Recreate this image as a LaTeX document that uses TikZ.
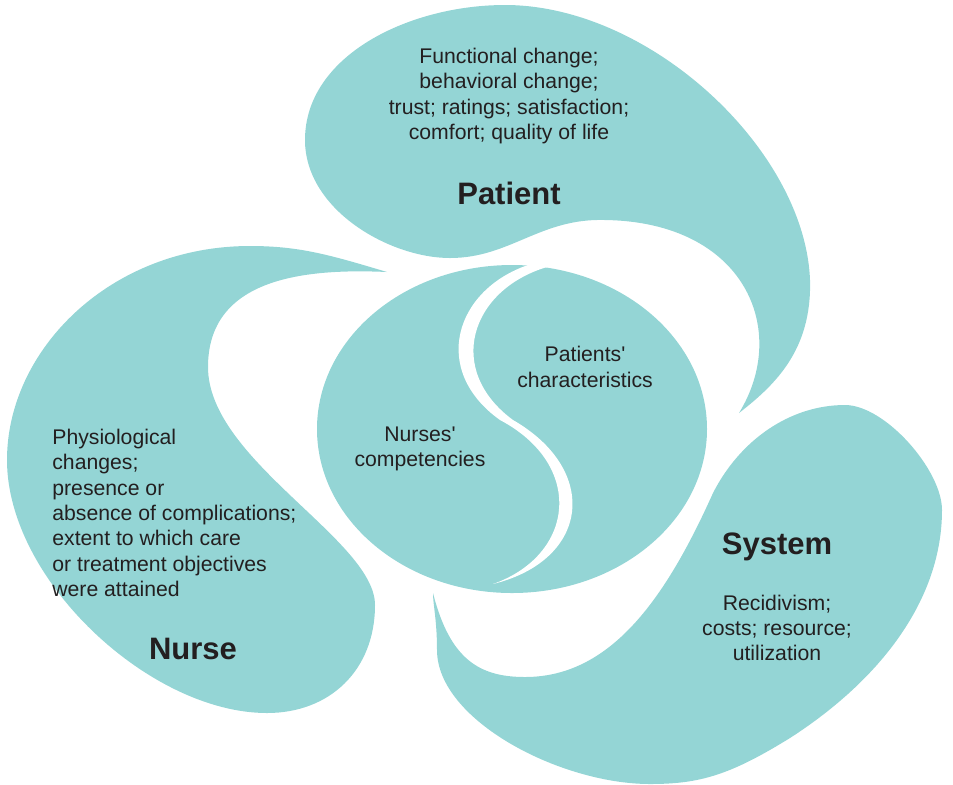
\documentclass[tikz,border=0pt]{standalone}
\usepackage{fontspec}
\setmainfont{Liberation Sans}[Ligatures=TeXOff]
\definecolor{blobc}{RGB}{148,213,213}
\definecolor{txtc}{RGB}{35,31,32}
\begin{document}
\begin{tikzpicture}[x=0.5pt,y=-0.5pt,
  blob/.style={fill=blobc},
  lbl/.style={text=txtc, font=\fontsize{10.6}{12.7}\selectfont, align=center, inner sep=0pt},
  ttl/.style={text=txtc, font=\fontsize{15.5}{18}\selectfont\bfseries, inner sep=0pt}]
\useasboundingbox (0,0) rectangle (953,784);
% Patient blob
\fill[blob] (739,413) .. controls (790,330) and (745,222) .. (605,220)
  .. controls (540,218) and (510,258) .. (450,258)
  .. controls (390,258) and (305,210) .. (305,140)
  .. controls (305,55) and (410,5) .. (505,5)
  .. controls (650,5) and (805,150) .. (810,280)
  .. controls (812,350) and (775,385) .. (739,413) -- cycle;
% Nurse blob
\fill[blob] (387,272) .. controls (330,255) and (300,246) .. (250,246)
  .. controls (110,246) and (7,350) .. (7,460)
  .. controls (7,580) and (150,713) .. (267,713)
  .. controls (330,713) and (375,670) .. (375,605)
  .. controls (375,540) and (208,460) .. (208,367)
  .. controls (208,280) and (300,268) .. (387,272) -- cycle;
% System blob
\fill[blob] (433,593) .. controls (450,660) and (480,677) .. (525,677)
  .. controls (610,677) and (665,600) .. (713,493)
  .. controls (740,440) and (790,405) .. (845,405)
  .. controls (885,405) and (942,470) .. (942,510)
  .. controls (942,600) and (880,680) .. (790,738)
  .. controls (730,775) and (700,784) .. (650,784)
  .. controls (560,784) and (437,720) .. (437,650)
  .. controls (437,620) and (433,605) .. (433,593) -- cycle;
% central circle
\fill[blob] (512,429) ellipse [x radius=195, y radius=164];
\fill[white] (528,255) -- (528,265) .. controls (455,290) and (430,370) .. (500,420)
  .. controls (585,465) and (575,555) .. (493,584)
  .. controls (590,560) and (600,470) .. (513,420)
  .. controls (445,370) and (470,290) .. (547,267) -- (547,255) -- cycle;
% texts
\node[lbl] (ptext) at (509,96) {Functional change;\\behavioral change;\\trust; ratings; satisfaction;\\comfort; quality of life};
\node[ttl] (patient) at (509,193) {Patient};
\node[lbl, align=left, anchor=west] (ntext) at (52,513) {Physiological\\changes;\\presence or\\absence of complications;\\extent to which care\\or treatment objectives\\were attained};
\node[ttl] (nurse) at (193,649) {Nurse};
\node[ttl] (system) at (777,547) {System};
\node[lbl] (stext) at (777,628) {Recidivism;\\costs; resource;\\utilization};
\node[lbl] (ncomp) at (420,449) {Nurses'\\competencies};
\node[lbl] (pchar) at (585,367) {Patients'\\characteristics};
\end{tikzpicture}
\end{document}
